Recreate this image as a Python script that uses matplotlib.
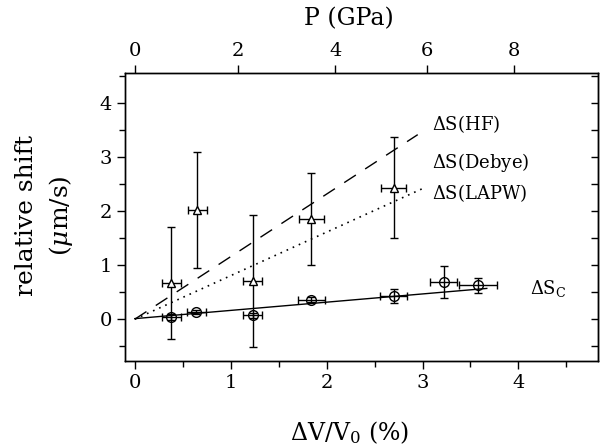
import matplotlib
matplotlib.use("Agg")
import matplotlib.pyplot as plt

plt.rcParams['font.family'] = ['DejaVu Serif']
plt.rcParams['mathtext.fontset'] = 'dejavuserif'

# triangles: Delta S measured
tri_x = [0.38, 0.65, 1.23, 1.84, 2.70]
tri_y = [0.67, 2.02, 0.71, 1.86, 2.44]
tri_xerr = [0.10, 0.10, 0.10, 0.13, 0.13]
tri_yerr = [1.04, 1.07, 1.22, 0.85, 0.94]

# circles: Delta S_c
circ_x = [0.38, 0.64, 1.23, 1.84, 2.70, 3.22, 3.58]
circ_y = [0.04, 0.135, 0.07, 0.36, 0.43, 0.69, 0.63]
circ_xerr = [0.10, 0.10, 0.10, 0.14, 0.14, 0.14, 0.20]
circ_yerr = [0.05, 0.04, 0.05, 0.05, 0.13, 0.30, 0.14]

# theory / fit lines (end points)
hf_x, hf_y = [0.0, 2.95], [0.0, 3.42]
lapw_x, lapw_y = [0.0, 3.0], [0.0, 2.42]
fit_x, fit_y = [0.0, 3.67], [0.01, 0.57]

# top axis: pressure ticks and their volume positions
p_labels = ['0', '2', '4', '6', '8']
p_pos = [0.0, 1.075, 2.09, 3.05, 3.95]

fig = plt.figure(figsize=(6.09, 4.46), dpi=100)
ax = fig.add_axes([0.205, 0.19, 0.777, 0.646])

ax.plot(hf_x, hf_y, color='black', lw=1.0, dashes=(10, 8))
ax.plot(lapw_x, lapw_y, color='black', lw=1.2, dashes=(1, 3))
ax.plot(fit_x, fit_y, color='black', lw=1.0)

ax.errorbar(tri_x, tri_y, xerr=tri_xerr, yerr=tri_yerr, fmt='^', ms=6,
            mfc='white', mec='black', ecolor='black', elinewidth=1.0,
            capsize=3, capthick=1.0, mew=1.0)
ax.errorbar(circ_x, circ_y, xerr=circ_xerr, yerr=circ_yerr, fmt='o', ms=7,
            mfc='none', mec='black', ecolor='black', elinewidth=1.0,
            capsize=3, capthick=1.0, mew=1.0)

ax.text(3.10, 3.62, r'$\Delta$S(HF)', fontsize=13, va='center')
ax.text(3.10, 2.91, r'$\Delta$S(Debye)', fontsize=13, va='center')
ax.text(3.10, 2.33, r'$\Delta$S(LAPW)', fontsize=13, va='center')
ax.text(4.12, 0.57, r'$\Delta$S$_\mathrm{C}$', fontsize=13, va='center')

ax.set_xlim(-0.104, 4.83)
ax.set_ylim(-0.78, 4.56)
ax.set_xticks([0, 1, 2, 3, 4])
ax.set_xticks([0.5, 1.5, 2.5, 3.5, 4.5], minor=True)
ax.set_yticks([0, 1, 2, 3, 4])
ax.set_yticks([-0.5, 0.5, 1.5, 2.5, 3.5, 4.5], minor=True)
ax.tick_params(which='both', direction='out', labelsize=14, width=1.0)
ax.tick_params(which='major', length=6)
ax.tick_params(which='minor', length=4)

# right side: inward ticks every 0.5, no labels
ax_r = ax.secondary_yaxis('right')
ax_r.set_yticks([-0.5, 0, 0.5, 1, 1.5, 2, 2.5, 3, 3.5, 4, 4.5])
ax_r.tick_params(direction='in', length=5, width=1.0, labelright=False)

ax.set_xlabel(r'$\Delta$V/V$_0$ (%)', fontsize=17)
ax.xaxis.set_label_coords(0.474, -0.2)
ax.set_ylabel('relative shift\n' + r'($\mu$m/s)', fontsize=18,
              linespacing=1.4)
ax.yaxis.set_label_coords(-0.106, 0.505)

ax2 = ax.twiny()
ax2.set_xlim(ax.get_xlim())
ax2.set_xticks(p_pos)
ax2.set_xticklabels(p_labels)
ax2.tick_params(direction='out', length=6, labelsize=14, width=1.0)
ax2.set_xlabel('P (GPa)', fontsize=17)
ax2.xaxis.set_label_coords(0.474, 1.165)

for sp in list(ax.spines.values()) + list(ax2.spines.values()):
    sp.set_linewidth(1.0)

fig.savefig('out.png', dpi=100)
